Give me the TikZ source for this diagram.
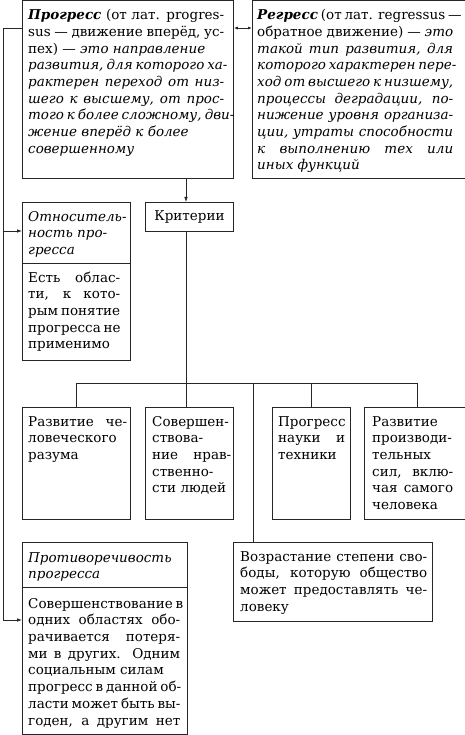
\documentclass[tikz,border=0pt]{standalone}
\usepackage{fontspec}
\setmainfont{DejaVu Serif}
\usetikzlibrary{arrows.meta}
\newcommand\jline[2]{\makebox[#1pt][s]{#2}}
\begin{document}
\begin{tikzpicture}[x=1pt,y=-1pt,
  box/.style={draw=black!85, line width=0.8pt, inner sep=0pt, anchor=north west},
  txt/.style={inner sep=0pt, anchor=north west, align=left, font=\fontsize{13.5}{16.7}\selectfont},
  arr/.style={-{Latex[length=5pt,width=3.6pt]}, line width=0.8pt, draw=black!85},
  darr/.style={{Latex[length=4pt,width=3pt]}-{Latex[length=4pt,width=3pt]}, line width=0.8pt, draw=black!85},
  ln/.style={line width=0.8pt, draw=black!85}]
\useasboundingbox (0,0) rectangle (465,735);
\clip (0,0) rectangle (465,735);

% boxes
\node[box, minimum width=211pt, minimum height=177.5pt] (prog) at (22,0.5) {};
\node[box, minimum width=218pt, minimum height=177.5pt] (regr) at (252,0.5) {};
\node[box, minimum width=88pt, minimum height=29pt, font=\fontsize{13.5}{16.7}\selectfont] (krit) at (145,202) {Критерии};
\node[box, minimum width=108pt, minimum height=158pt] (rel) at (22,202) {};
\node[box, minimum width=108pt, minimum height=112pt] (r1) at (22,407) {};
\node[box, minimum width=88pt, minimum height=112pt] (r2) at (145,407) {};
\node[box, minimum width=78pt, minimum height=112pt] (r3) at (272,407) {};
\node[box, minimum width=106pt, minimum height=112pt] (r4) at (364,407) {};
\node[box, minimum width=199pt, minimum height=79pt] (vozr) at (233,542) {};
\node[box, minimum width=165pt, minimum height=192pt] (contr) at (22,542) {};

% dividers
\coordinate (reldiv) at ([yshift=-61pt]rel.north west);
\draw[ln] (reldiv) -- ([yshift=-61pt]rel.north east);
\coordinate (contrdiv) at ([yshift=-45pt]contr.north west);
\draw[ln] (contrdiv) -- ([yshift=-45pt]contr.north east);

% texts
\node[txt] (progt) at ([shift={(6,7.3)}]prog.north west) {%
\strut\jline{196}{\textbf{\textit{Прогресс}} (от лат. progres-}\\
\jline{196}{sus — движение вперёд, ус-}\\
пех) — \textit{это направление}\\
\jline{196}{\textit{развития, для которого ха-}}\\
\jline{196}{\textit{рактерен переход от низ-}}\\
\jline{196}{\textit{шего к высшему, от прос-}}\\
\jline{196}{\textit{того к более сложному, дви-}}\\
\textit{жение вперёд к более}\\
\textit{совершенному}};

\node[txt] (regrt) at ([shift={(5,7.3)}]regr.north west) {%
\strut\jline{196}{\textbf{\textit{Регресс}} (от лат. regressus —}\\
\jline{196}{обратное движение) — \textit{это}}\\
\jline{196}{\textit{такой тип развития, для}}\\
\jline{196}{\textit{которого характерен пере-}}\\
\jline{196}{\textit{ход от высшего к низшему,}}\\
\jline{196}{\textit{процессы деградации, по-}}\\
\jline{196}{\textit{нижение уровня организа-}}\\
\jline{196}{\textit{ции, утраты способности}}\\
\jline{196}{\textit{к выполнению тех или}}\\
\textit{иных функций}};

\node[txt] (relh) at ([shift={(6,7.3)}]rel.north west) {%
\strut\textit{Относитель-}\\
\textit{ность про-}\\
\textit{гресса}};
\node[txt] (relb) at ([shift={(6,7.3)}]reldiv) {%
\strut\jline{92}{Есть облас-}\\
\jline{92}{ти, к кото-}\\
\jline{92}{рым понятие}\\
\jline{92}{прогресса не}\\
применимо};

\node[txt] (r1t) at ([shift={(6,7.3)}]r1.north west) {%
\strut\jline{99}{Развитие че-}\\
ловеческого\\
разума};
\node[txt] (r2t) at ([shift={(7,7.3)}]r2.north west) {%
\strut\jline{79}{Совершен-}\\
ствова-\\
\jline{79}{ние нрав-}\\
ственно-\\
сти людей};
\node[txt] (r3t) at ([shift={(6,7.3)}]r3.north west) {%
\strut Прогресс\\
\jline{67}{науки и}\\
техники};
\node[txt] (r4t) at ([shift={(8,7.3)}]r4.north west) {%
\strut Развитие\\
\jline{81}{производи-}\\
тельных\\
\jline{81}{сил, вклю-}\\
\jline{81}{чая самого}\\
человека};
\node[txt] (vozrt) at ([shift={(7,7.3)}]vozr.north west) {%
\strut\jline{187}{Возрастание степени сво-}\\
\jline{187}{боды, которую общество}\\
\jline{187}{может предоставлять че-}\\
ловеку};
\node[txt] (contrh) at ([shift={(6,8.3)}]contr.north west) {%
\strut\textit{Противоречивость}\\
\textit{прогресса}};
\node[txt] (contrb) at ([shift={(6,9.3)}]contrdiv) {%
\strut\jline{152}{Совершенствование в}\\
\jline{152}{одних областях обо-}\\
\jline{152}{рачивается потеря-}\\
\jline{152}{ми в других. Одним}\\
социальным силам\\
\jline{152}{прогресс в данной об-}\\
\jline{152}{ласти может быть вы-}\\
\jline{152}{годен, а другим нет}};

% helper coordinates
\coordinate (L1) at (3,28);
\coordinate (L2) at (3,620);
\coordinate (L3) at (3,231);
\coordinate (cx) at (186,0);
\coordinate (vx) at (253,0);
\coordinate (busy) at (0,383);

% connectors
\draw[darr] (prog.east |- L1) -- (regr.west |- L1);
\draw[ln] (prog.west |- L1) -- (L1) -- (L2);
\draw[arr] (L2) -- (contr.west |- L2);
\draw[arr] (L3) -- (rel.west |- L3);
\draw[arr] (prog.south -| cx) -- (krit.north -| cx);
\draw[ln] (krit.south -| cx) -- (r2.north -| cx);
\draw[ln] (r1.north) -- (r1.north |- busy) -- (r4.north |- busy) -- (r4.north);
\draw[ln] (r3.north |- busy) -- (r3.north);
\draw[ln] (vx |- busy) -- (vozr.north -| vx);
\end{tikzpicture}
\end{document}
